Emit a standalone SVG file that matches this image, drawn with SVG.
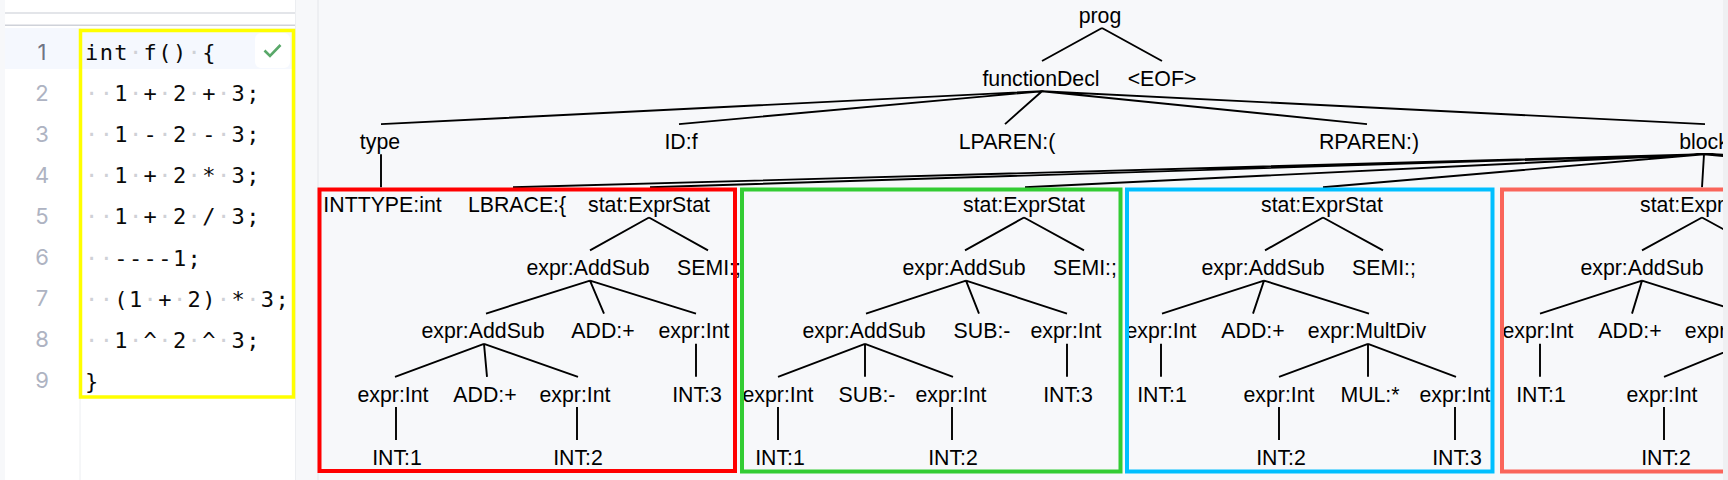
<svg xmlns="http://www.w3.org/2000/svg" width="1728" height="480" viewBox="0 0 1728 480">
<style>
.code{font-family:"DejaVu Sans Mono","Liberation Mono",monospace;font-size:22px;letter-spacing:1.4px;fill:#0a0a0a}
.ws{fill:#cfd1d6}
.ln{font-family:Inter,"Liberation Sans",sans-serif;font-size:22px;fill:#aeb3c2;text-anchor:middle}
.ln1{fill:#707484}
.t{font-family:"Liberation Sans",Arial,sans-serif;font-size:21.3px;fill:#000;text-anchor:middle}
.e{stroke:#000;stroke-width:1.9;fill:none}
.box{fill:none;stroke-width:4}
</style>
<defs>
<clipPath id="panel"><rect x="296" y="0" width="1427" height="480"/></clipPath>
</defs>
<rect x="0" y="0" width="1728" height="480" fill="#f7f8fa"/>
<g id="editor">
<rect x="5" y="0" width="290" height="480" fill="#ffffff"/>
<rect x="5" y="12" width="290" height="2" fill="#e3e5e9"/>
<rect x="5" y="24.5" width="290" height="1.5" fill="#cfd2d9"/>
<rect x="5" y="28" width="290" height="41" fill="#f5f8fe"/>
<line x1="80" y1="28" x2="80" y2="480" stroke="#eceef1" stroke-width="1"/>
<line x1="295.5" y1="0" x2="295.5" y2="480" stroke="#eceef1" stroke-width="1"/>
<text class="ln ln1" x="42" y="59.5">1</text>
<text class="ln" x="42" y="100.6">2</text>
<text class="ln" x="42" y="141.7">3</text>
<text class="ln" x="42" y="182.8">4</text>
<text class="ln" x="42" y="223.9">5</text>
<text class="ln" x="42" y="265">6</text>
<text class="ln" x="42" y="306.1">7</text>
<text class="ln" x="42" y="347.2">8</text>
<text class="ln" x="42" y="388.3">9</text>
<text class="code" x="85" y="60">int<tspan class="ws">·</tspan>f()<tspan class="ws">·</tspan>{</text>
<text class="code" x="85" y="101.1"><tspan class="ws">··</tspan>1<tspan class="ws">·</tspan>+<tspan class="ws">·</tspan>2<tspan class="ws">·</tspan>+<tspan class="ws">·</tspan>3;</text>
<text class="code" x="85" y="142.2"><tspan class="ws">··</tspan>1<tspan class="ws">·</tspan>-<tspan class="ws">·</tspan>2<tspan class="ws">·</tspan>-<tspan class="ws">·</tspan>3;</text>
<text class="code" x="85" y="183.3"><tspan class="ws">··</tspan>1<tspan class="ws">·</tspan>+<tspan class="ws">·</tspan>2<tspan class="ws">·</tspan>*<tspan class="ws">·</tspan>3;</text>
<text class="code" x="85" y="224.4"><tspan class="ws">··</tspan>1<tspan class="ws">·</tspan>+<tspan class="ws">·</tspan>2<tspan class="ws">·</tspan>/<tspan class="ws">·</tspan>3;</text>
<text class="code" x="85" y="265.5"><tspan class="ws">··</tspan>----1;</text>
<text class="code" x="85" y="306.6"><tspan class="ws">··</tspan>(1<tspan class="ws">·</tspan>+<tspan class="ws">·</tspan>2)<tspan class="ws">·</tspan>*<tspan class="ws">·</tspan>3;</text>
<text class="code" x="85" y="347.7"><tspan class="ws">··</tspan>1<tspan class="ws">·</tspan>^<tspan class="ws">·</tspan>2<tspan class="ws">·</tspan>^<tspan class="ws">·</tspan>3;</text>
<text class="code" x="85" y="388.8">}</text>
<rect x="255" y="33" width="35" height="35" rx="6" fill="#ffffff"/>
<path d="M264.5 50.5 L270 56 L280.5 45" stroke="#59a869" stroke-width="2.6" fill="none"/>
<rect x="80.5" y="30.5" width="213" height="366.5" fill="none" stroke="#ffff00" stroke-width="3.5"/>
</g>
<line x1="318" y1="0" x2="318" y2="480" stroke="#e4e6ea" stroke-width="1"/>
<g clip-path="url(#panel)">
<g id="connectors">
<path class="e" d="M1102 28L1042 61M1102 28L1162 61"/>
<path class="e" d="M1042 91.2L381 124.1M1042 91.2L679 124.1M1042 91.2L1005 124.1M1042 91.2L1367 124.1M1042 91.2L1705 124.1"/>
<path class="e" d="M381 154.3L381 187.3"/>
<path class="e" d="M1704 154.3L513 187.3M1704 154.3L650 187.3M1704 154.3L1025 187.3M1704 154.3L1323 187.3M1704 154.3L1702 187.3M1704 154.3L2080 187.3M1704 154.3L2460 187.3M1704 154.3L2840 187.3M1704 154.3L3220 187.3M1704 154.3L3400 187.3"/>
<path class="e" d="M649 217.5L590 250.4M649 217.5L708 250.4M590 280.6L486 313.6M590 280.6L604 313.6M590 280.6L696 313.6M484 343.8L395 376.8M484 343.8L487 376.8M484 343.8L578 376.8M696 343.8L696 376.8M396 407L396 440M577 407L577 440"/>
<path class="e" d="M1024 217.5L965 250.4M1024 217.5L1084 250.4M966 280.6L866 313.6M966 280.6L979 313.6M966 280.6L1067 313.6M865 343.8L778 376.8M865 343.8L865 376.8M865 343.8L953 376.8M1067 343.8L1067 376.8M778 407L778 440M952 407L952 440"/>
<path class="e" d="M1323 217.5L1265 250.4M1323 217.5L1383 250.4M1264 280.6L1162 313.6M1264 280.6L1253 313.6M1264 280.6L1369 313.6M1161 343.8L1161 376.8M1368 343.8L1279 376.8M1368 343.8L1368 376.8M1368 343.8L1456 376.8M1279 407L1279 440M1455 407L1455 440"/>
<path class="e" d="M1702 217.5L1642 250.4M1702 217.5L1762 250.4M1642 280.6L1540 313.6M1642 280.6L1632 313.6M1642 280.6L1746 313.6M1540 343.8L1540 376.8M1745 343.8L1664 376.8M1745 343.8L1745 376.8M1745 343.8L1830 376.8M1664 407L1664 440"/>
</g>
<g id="n-prog"><text class="t" x="1100" y="22.5">prog</text></g>
<g id="n-functionDecl"><text class="t" x="1041" y="85.7">functionDecl</text></g>
<g id="n-eof"><text class="t" x="1162" y="85.7">&lt;EOF&gt;</text></g>
<g id="n-type"><text class="t" x="380" y="148.8">type</text></g>
<g id="n-id"><text class="t" x="681" y="148.8">ID:f</text></g>
<g id="n-lparen"><text class="t" x="1007" y="148.8">LPAREN:(</text></g>
<g id="n-rparen"><text class="t" x="1369" y="148.8">RPAREN:)</text></g>
<g id="n-block"><text class="t" x="1704" y="148.8">block</text></g>
<g id="n-inttype"><text class="t" x="382.5" y="212">INTTYPE:int</text></g>
<g id="n-lbrace"><text class="t" x="517" y="212">LBRACE:{</text></g>
<g id="s1-stat"><text class="t" x="649" y="212">stat:ExprStat</text></g>
<g id="s1-add"><text class="t" x="588" y="275.1">expr:AddSub</text></g>
<g id="s1-semi"><text class="t" x="709" y="275.1">SEMI:;</text></g>
<g id="s1-add2"><text class="t" x="483" y="338.3">expr:AddSub</text></g>
<g id="s1-op"><text class="t" x="603" y="338.3">ADD:+</text></g>
<g id="s1-e3"><text class="t" x="694" y="338.3">expr:Int</text></g>
<g id="s1-e1"><text class="t" x="393" y="401.5">expr:Int</text></g>
<g id="s1-op2"><text class="t" x="485" y="401.5">ADD:+</text></g>
<g id="s1-e2"><text class="t" x="575" y="401.5">expr:Int</text></g>
<g id="s1-i3"><text class="t" x="697" y="401.5">INT:3</text></g>
<g id="s1-i1"><text class="t" x="397" y="464.6">INT:1</text></g>
<g id="s1-i2"><text class="t" x="578" y="464.6">INT:2</text></g>
<g id="s2-stat"><text class="t" x="1024" y="212">stat:ExprStat</text></g>
<g id="s2-add"><text class="t" x="964" y="275.1">expr:AddSub</text></g>
<g id="s2-semi"><text class="t" x="1085" y="275.1">SEMI:;</text></g>
<g id="s2-add2"><text class="t" x="864" y="338.3">expr:AddSub</text></g>
<g id="s2-op"><text class="t" x="982" y="338.3">SUB:-</text></g>
<g id="s2-e3"><text class="t" x="1066" y="338.3">expr:Int</text></g>
<g id="s2-e1"><text class="t" x="778" y="401.5">expr:Int</text></g>
<g id="s2-op2"><text class="t" x="867" y="401.5">SUB:-</text></g>
<g id="s2-e2"><text class="t" x="951" y="401.5">expr:Int</text></g>
<g id="s2-i3"><text class="t" x="1068" y="401.5">INT:3</text></g>
<g id="s2-i1"><text class="t" x="780" y="464.6">INT:1</text></g>
<g id="s2-i2"><text class="t" x="953" y="464.6">INT:2</text></g>
<g id="s3-stat"><text class="t" x="1322" y="212">stat:ExprStat</text></g>
<g id="s3-add"><text class="t" x="1263" y="275.1">expr:AddSub</text></g>
<g id="s3-semi"><text class="t" x="1384" y="275.1">SEMI:;</text></g>
<g id="s3-e1"><text class="t" x="1161" y="338.3">expr:Int</text></g>
<g id="s3-op"><text class="t" x="1253" y="338.3">ADD:+</text></g>
<g id="s3-mul"><text class="t" x="1367" y="338.3">expr:MultDiv</text></g>
<g id="s3-i1"><text class="t" x="1162" y="401.5">INT:1</text></g>
<g id="s3-e2"><text class="t" x="1279" y="401.5">expr:Int</text></g>
<g id="s3-op2"><text class="t" x="1370" y="401.5">MUL:*</text></g>
<g id="s3-e3"><text class="t" x="1455" y="401.5">expr:Int</text></g>
<g id="s3-i2"><text class="t" x="1281" y="464.6">INT:2</text></g>
<g id="s3-i3"><text class="t" x="1457" y="464.6">INT:3</text></g>
<g id="s4-stat"><text class="t" x="1701" y="212">stat:ExprStat</text></g>
<g id="s4-add"><text class="t" x="1642" y="275.1">expr:AddSub</text></g>
<g id="s4-e1"><text class="t" x="1538" y="338.3">expr:Int</text></g>
<g id="s4-op"><text class="t" x="1630" y="338.3">ADD:+</text></g>
<g id="s4-mul"><text class="t" x="1744" y="338.3">expr:MultDiv</text></g>
<g id="s4-i1"><text class="t" x="1541" y="401.5">INT:1</text></g>
<g id="s4-e2"><text class="t" x="1662" y="401.5">expr:Int</text></g>
<g id="s4-i2"><text class="t" x="1666" y="464.6">INT:2</text></g>
<g id="boxes">
<rect class="box" x="319.5" y="189.5" width="415.5" height="281.5" stroke="#ff0000"/>
<rect class="box" x="742" y="189.5" width="378.5" height="282" stroke="#33cc33"/>
<rect class="box" x="1127" y="189.5" width="365.5" height="282" stroke="#00bfff"/>
<rect class="box" x="1502" y="189.5" width="400" height="282" stroke="#fa655a"/>
</g>
</g>
<rect x="1723" y="0" width="5" height="480" fill="#eff0f2"/>
</svg>
